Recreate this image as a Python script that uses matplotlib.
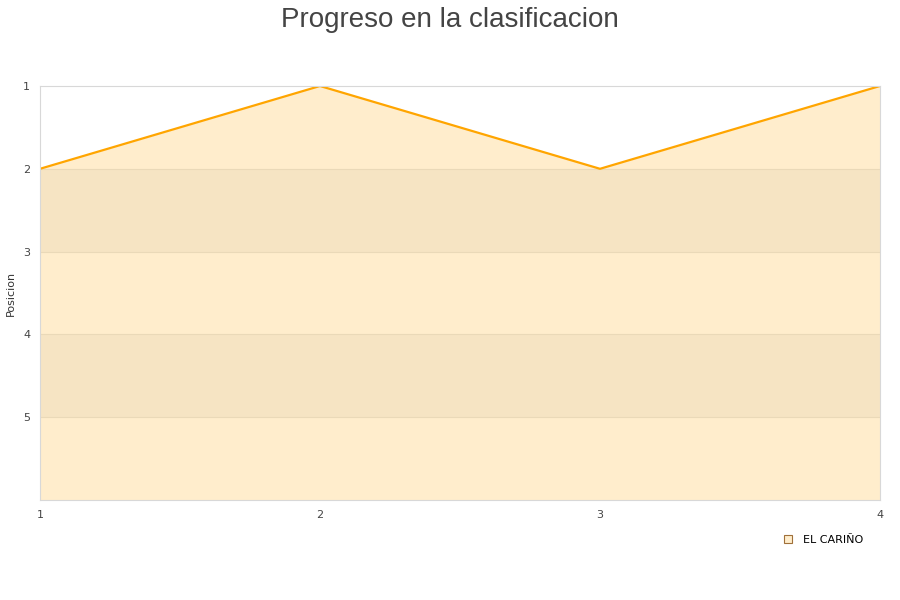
import numpy as np
import matplotlib.pyplot as plt
from matplotlib.patches import Patch

## data
jornadas = [1, 2, 3, 4]
posicion = [2, 1, 2, 1]
equipo = 'EL CARIÑO'

fig = plt.figure(figsize=(9, 6), dpi=100)
ax = fig.add_axes([40/900, 1-500/600, 840/900, 414/600])

## alternating bands behind the area
for lo in [2, 4]:
    ax.axhspan(lo, lo+1, color='#f4f4f4', zorder=0, lw=0)
for y in [2, 3, 4, 5]:
    ax.axhline(y, color='#e6e6e6', lw=0.8, zorder=0.5)

ax.fill_between(jornadas, posicion, 6, color='#FFA500', alpha=0.2, lw=0, zorder=1)
ax.plot(jornadas, posicion, color='#FFA500', lw=1.6, zorder=2)

ax.set_xlim(1, 4)
ax.set_ylim(6, 1)
ax.set_xticks(jornadas)
ax.set_yticks([1, 2, 3, 4, 5])
ax.tick_params(length=0, labelsize=8, colors='#444444')
ax.tick_params(axis='y', pad=7)
ax.tick_params(axis='x', pad=7)
for s in ax.spines.values():
    s.set_color('#d8d8d8')

fig.text(11/900, 1-293/600, 'Posicion', rotation=90, fontsize=8, color='#333333',
         ha='center', va='center')
fig.suptitle('Progreso en la clasificacion', fontsize=20, color='#444444', y=0.988,
             family='Liberation Sans')

handle = Patch(facecolor='#FFEDCC', edgecolor='#a0703a', lw=0.8)
fig.legend([handle], [equipo], loc='center', bbox_to_anchor=(0.915, 0.1), frameon=False,
           fontsize=8, handlelength=0.7, handleheight=0.7, handletextpad=1.0)

fig.savefig('out.png', dpi=100)
